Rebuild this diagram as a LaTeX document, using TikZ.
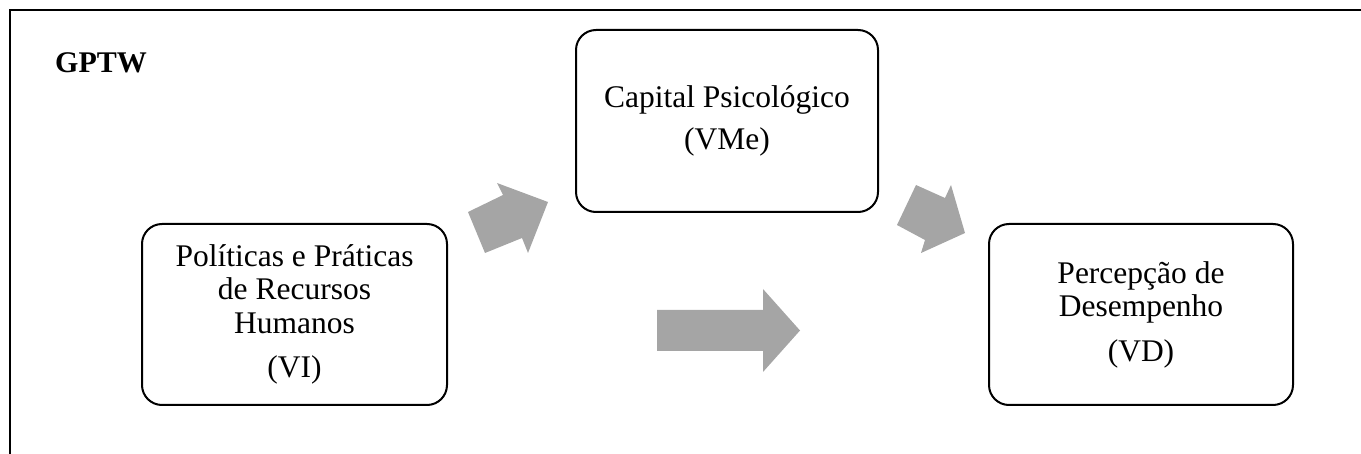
\documentclass[tikz,border=0pt]{standalone}
\usepackage{fontspec}
\setmainfont{Liberation Serif}
\begin{document}
\begin{tikzpicture}[x=1pt,y=-1pt,
  box/.style={draw=black,line width=2pt,rounded corners=20pt,align=center,
    font=\fontsize{31.5}{33.5}\selectfont,inner sep=0pt},
  blockarrow/.style={fill=arrowgray,draw=none},
  frame/.style={draw=black,line width=2pt}]
\definecolor{arrowgray}{HTML}{A5A5A5}
\useasboundingbox (0,0) rectangle (1361,454);
\draw[frame] (10,454) -- (10,10) -- (1361,10);
\node[font=\fontsize{30}{34}\selectfont\bfseries,anchor=base west,inner sep=0pt] (title) at (55,73) {GPTW};
\node[box,minimum width=305pt,minimum height=181pt] (vi) at (294.5,314.5)
  {Políticas e Práticas\\de Recursos\\Humanos\\[11pt](VI)};
\node[box,minimum width=302pt,minimum height=182pt] (vme) at (727,121)
  {Capital Psicológico\\[8pt](VMe)};
\node[box,minimum width=304pt,minimum height=181pt] (vd) at (1141,314.5)
  {Percepção de\\Desempenho\\[11pt](VD)};
\path[blockarrow] (485,253) -- (468,212) -- (503,195) -- (497,183) -- (548,202) -- (528,253) -- (522,238) -- cycle;
\path[blockarrow] (916,185) -- (897,225) -- (925,240) -- (921,253) -- (965,233) -- (951,185) -- (945,198) -- cycle;
\path[blockarrow] (657,310) -- (763,310) -- (763,289) -- (800,330.5) -- (763,372) -- (763,351) -- (657,351) -- cycle;
\end{tikzpicture}
\end{document}
